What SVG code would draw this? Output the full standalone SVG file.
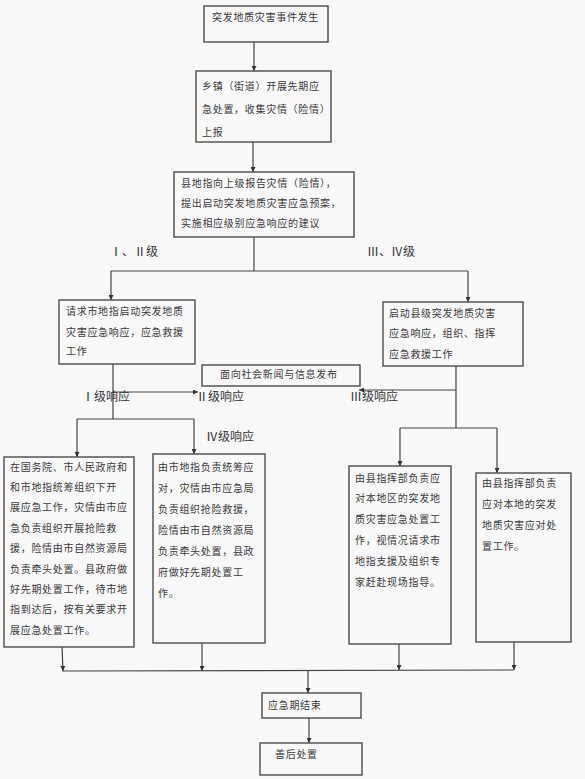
<svg xmlns="http://www.w3.org/2000/svg" width="585" height="779" viewBox="0 0 585 779">
<defs>
<style>
.box{fill:#f8f8f8;stroke:#4a4a4a;stroke-width:1.4}
.t{font-family:"Noto Sans CJK SC","Noto Sans",sans-serif;font-size:10px;letter-spacing:0.7px;fill:#3a3a3a}
.lab{font-family:"Liberation Serif","Noto Sans CJK SC",serif;font-size:12px;fill:#333}
.ln{fill:none;stroke:#444;stroke-width:1.2}
</style>
<marker id="ah" viewBox="0 0 8 8" refX="8" refY="4" markerWidth="5" markerHeight="5" orient="auto" markerUnits="userSpaceOnUse">
<path d="M0,0 L8,4 L0,8 z" fill="#333"/>
</marker>
</defs>
<rect x="0" y="0" width="585" height="779" fill="#f8f8f8"/>

<g id="connectors">
<path class="ln" d="M254,42 V71" marker-end="url(#ah)"/>
<path class="ln" d="M253,142 V172" marker-end="url(#ah)"/>
<path class="ln" d="M254,237 V271"/>
<path class="ln" d="M111,271 H468"/>
<path class="ln" d="M111,271 V300" marker-end="url(#ah)"/>
<path class="ln" d="M468,271 V302" marker-end="url(#ah)"/>
<path class="ln" d="M113,364 V419"/>
<path class="ln" d="M113,392 H198" marker-end="url(#ah)"/>
<path class="ln" d="M456,366 V428"/>
<path class="ln" d="M456,390 H359" marker-end="url(#ah)"/>
<path class="ln" d="M77,419 H194"/>
<path class="ln" d="M77,419 V457" marker-end="url(#ah)"/>
<path class="ln" d="M194,419 V454" marker-end="url(#ah)"/>
<path class="ln" d="M400,428 H497"/>
<path class="ln" d="M400,428 V466" marker-end="url(#ah)"/>
<path class="ln" d="M497,428 V473" marker-end="url(#ah)"/>
<path class="ln" d="M62,647 L63,671" marker-end="url(#ah)"/>
<path class="ln" d="M202,643 V671" marker-end="url(#ah)"/>
<path class="ln" d="M399,644 V670" marker-end="url(#ah)"/>
<path class="ln" d="M514,642 V670" marker-end="url(#ah)"/>
<path class="ln" d="M62,671 L514,670"/>
<path class="ln" d="M308,671 V693" marker-end="url(#ah)"/>
<path class="ln" d="M309,718 V743" marker-end="url(#ah)"/>
</g>

<g id="labels">
<text class="lab" x="110" y="256">Ⅰ、Ⅱ级</text>
<text class="lab" x="367" y="256">Ⅲ、Ⅳ级</text>
<text class="lab" x="82" y="401">Ⅰ级响应</text>
<text class="lab" x="196" y="401">Ⅱ级响应</text>
<text class="lab" x="350" y="401">Ⅲ级响应</text>
<text class="lab" x="206" y="441">Ⅳ级响应</text>
</g>

<g id="n1">
<rect class="box" x="204" y="6" width="124" height="36"/>
<text class="t" x="212" y="21">突发地质灾害事件发生</text>
</g>

<g id="n2">
<rect class="box" x="196" y="71" width="135" height="71"/>
<text class="t" x="202" y="89.5">乡镇（街道）开展先期应</text>
<text class="t" x="202" y="112.5">急处置，收集灾情（险情）</text>
<text class="t" x="202" y="135.5">上报</text>
</g>

<g id="n3">
<rect class="box" x="174" y="172" width="180" height="65"/>
<text class="t" x="181" y="186.5">县地指向上级报告灾情（险情），</text>
<text class="t" x="181" y="206.5">提出启动突发地质灾害应急预案，</text>
<text class="t" x="181" y="226.5">实施相应级别应急响应的建议</text>
</g>

<g id="n4">
<rect class="box" x="59" y="300" width="136" height="64"/>
<text class="t" x="66" y="314.5">请求市地指启动突发地质</text>
<text class="t" x="66" y="335.5">灾害应急响应，应急救援</text>
<text class="t" x="66" y="354.5">工作</text>
</g>

<g id="n5">
<rect class="box" x="383" y="302" width="140" height="64"/>
<text class="t" x="389" y="316.5">启动县级突发地质灾害</text>
<text class="t" x="389" y="336.5">应急响应，组织、指挥</text>
<text class="t" x="389" y="357.5">应急救援工作</text>
</g>

<g id="n_news">
<rect class="box" x="202" y="365" width="158" height="21"/>
<text class="t" x="220" y="377.5">面向社会新闻与信息发布</text>
</g>

<g id="n6">
<rect class="box" x="4" y="457" width="130" height="190"/>
<text class="t" x="10" y="470.5">在国务院、市人民政府和</text>
<text class="t" x="10" y="490.9">和市地指统筹组织下开</text>
<text class="t" x="10" y="511.3">展应急工作，灾情由市应</text>
<text class="t" x="10" y="531.7">急负责组织开展抢险救</text>
<text class="t" x="10" y="552.1">援，险情由市自然资源局</text>
<text class="t" x="10" y="572.5">负责牵头处置。县政府做</text>
<text class="t" x="10" y="592.9">好先期处置工作，待市地</text>
<text class="t" x="10" y="613.3">指到达后，按有关要求开</text>
<text class="t" x="10" y="633.7">展应急处置工作。</text>
</g>

<g id="n7">
<rect class="box" x="153" y="454" width="112" height="189"/>
<text class="t" x="158" y="470.5">由市地指负责统筹应</text>
<text class="t" x="158" y="491.5">对，灾情由市应急局</text>
<text class="t" x="158" y="512.5">负责组织抢险救援，</text>
<text class="t" x="158" y="533.5">险情由市自然资源局</text>
<text class="t" x="158" y="554.5">负责牵头处置，县政</text>
<text class="t" x="158" y="575.5">府做好先期处置工</text>
<text class="t" x="158" y="596.5">作。</text>
</g>

<g id="n8">
<rect class="box" x="349" y="466" width="102" height="178"/>
<text class="t" x="355" y="481.5">由县指挥部负责应</text>
<text class="t" x="355" y="502.4">对本地区的突发地</text>
<text class="t" x="355" y="523.3">质灾害应急处置工</text>
<text class="t" x="355" y="544.2">作，视情况请求市</text>
<text class="t" x="355" y="565.1">地指支援及组织专</text>
<text class="t" x="355" y="586">家赶赴现场指导。</text>
</g>

<g id="n9">
<rect class="box" x="476" y="473" width="95" height="169"/>
<text class="t" x="482" y="486.5">由县指挥部负责</text>
<text class="t" x="482" y="507.8">应对本地的突发</text>
<text class="t" x="482" y="529.1">地质灾害应对处</text>
<text class="t" x="482" y="550.4">置工作。</text>
</g>

<g id="n10">
<rect class="box" x="262" y="693" width="99" height="25"/>
<text class="t" x="268" y="708.5">应急期结束</text>
</g>

<g id="n11">
<rect class="box" x="260" y="743" width="102" height="32"/>
<text class="t" x="275" y="757.5">善后处置</text>
</g>
</svg>
